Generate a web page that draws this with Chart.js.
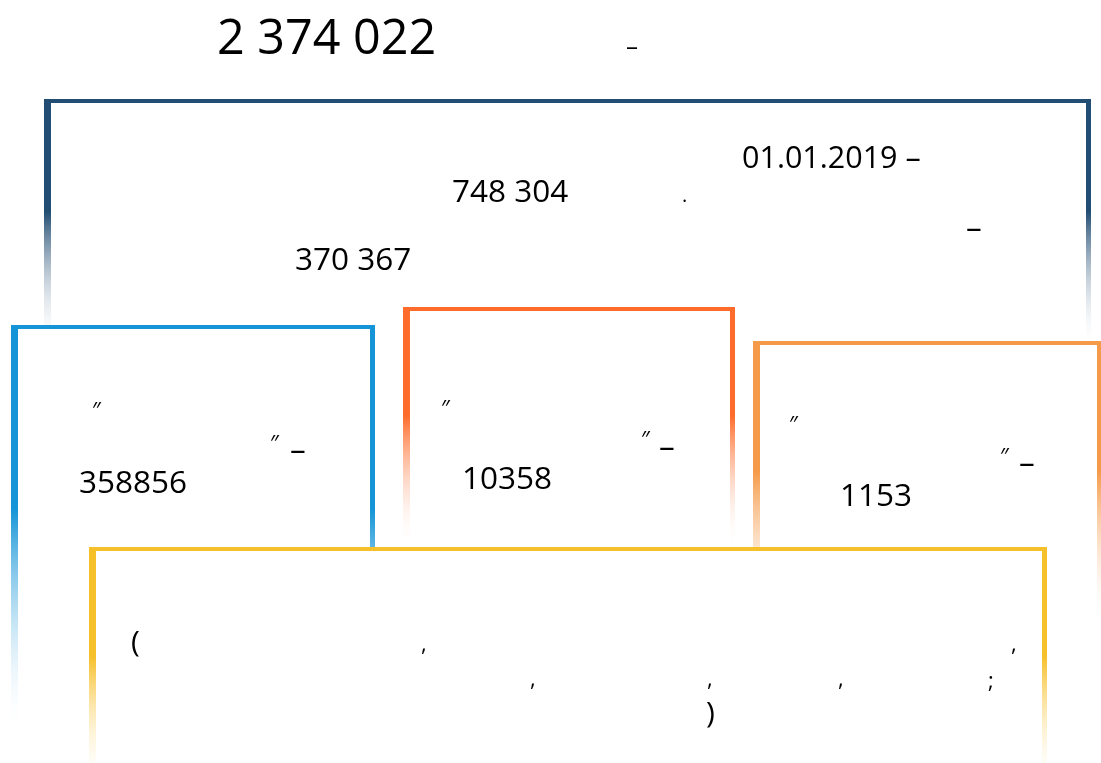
<!DOCTYPE html>
<html>
<head>
<meta charset="utf-8">
<script src="https://cdn.jsdelivr.net/npm/chart.js@4"></script>
<style>
  html, body { margin: 0; padding: 0; background: #ffffff; }
  #wrap { width: 1101px; height: 763px; }
</style>
</head>
<body>
<div id="wrap"><canvas id="infoChart" width="1101" height="763"></canvas></div>
<script>
// values
const totalValue = [2374022];
const periodStart = ['01.01.2019'];
const summaryValues = [748304, 370367];
const categoryValues = [358856, 10358, 1153];
const boxColors = ['#234e73', '#1595d7', '#fe6b2a', '#f59a48', '#f6c02a'];

// 2 374 022 style
function spaced(n) {
    return String(n).replace(/\B(?=(\d{3})+(?!\d))/g, ' ');
}

// boxes in picture units: left, top, right, bottom, fade end
const boxes = [
    { l: 44, t: 99, r: 1091, b: 420, fade: 350, c: boxColors[0] },
    { l: 11, t: 325, r: 375, b: 740, fade: 735, c: boxColors[1] },
    { l: 403, t: 307, r: 735, b: 548, fade: 548, c: boxColors[2] },
    { l: 753, t: 341, r: 1102, b: 640, fade: 630, c: boxColors[3] },
    { l: 89, t: 547, r: 1047, b: 763, fade: 790, c: boxColors[4] }
];

// text pieces: x, baseline, size, string
const big = 31.5;
const texts = [
    [217, 54, 48.5, spaced(totalValue[0])],
    [626, 55, 24, '–'],
    [742, 168, 30.5, periodStart[0] + ' –'],
    [452, 202, big, spaced(summaryValues[0])],
    [682, 202, 20, '.'],
    [966, 238, big, '–'],
    [295, 270, big, spaced(summaryValues[1])]
];
const quoteRows = [
    { box: 1, ox: 92, oy: 418, cx: 270, cy: 451, dx: 290, dy: 460, nx: 79, ny: 493 },
    { box: 2, ox: 441, oy: 416, cx: 641, cy: 447, dx: 659, dy: 457, nx: 462, ny: 489 },
    { box: 3, ox: 789, oy: 432, cx: 1000, cy: 464, dx: 1019, dy: 473, nx: 840, ny: 506 }
];
quoteRows.forEach(function(q, i) {
    texts.push([q.ox, q.oy, 22, '″']);
    texts.push([q.cx, q.cy, 22, '″']);
    texts.push([q.dx, q.dy, big, '–']);
    texts.push([q.nx, q.ny, big, String(categoryValues[i])]);
});
const lastTexts = [
    [131, 652, 30, '('],
    [421, 651, 22, ','],
    [1011, 651, 22, ','],
    [530, 686, 22, ','],
    [707, 686, 22, ','],
    [838, 686, 22, ','],
    [988, 688, 22, ';'],
    [706, 723, 30, ')']
];

const boxPlugin = {
    id: 'boxPlugin',
    beforeDatasetsDraw(chart) {
        const ctx = chart.ctx;
        const xs = chart.scales.x;
        const ys = chart.scales.y;
        const X = v => xs.getPixelForValue(v);
        const Y = v => ys.getPixelForValue(v);

        function drawText(t) {
            ctx.font = t[2] + 'px "Open Sans", "DejaVu Sans", sans-serif';
            ctx.fillStyle = '#000000';
            ctx.textBaseline = 'alphabetic';
            ctx.textAlign = 'left';
            ctx.fillText(t[3], X(t[0]), Y(t[1]));
        }

        ctx.save();
        boxes.forEach(function(b, i) {
            const l = X(b.l), t = Y(b.t), r = X(b.r), bt = Y(b.b);
            // white card hides what lies below
            ctx.fillStyle = '#ffffff';
            ctx.fillRect(l, t, r - l, bt - t);

            const g = ctx.createLinearGradient(0, t, 0, Y(b.fade));
            g.addColorStop(0, b.c);
            g.addColorStop(0.45, b.c);
            g.addColorStop(1, 'rgba(255,255,255,0)');
            ctx.fillStyle = g;
            ctx.fillRect(l, t, 7, bt - t);          // left side
            ctx.fillRect(r - 5, t, 5, bt - t);      // right side
            ctx.fillStyle = b.c;
            ctx.fillRect(l, t, r - l, 4);           // top

            // texts belonging to each box are drawn with it
            if (i === 0) texts.slice(0, 7).forEach(drawText);
            quoteRows.forEach(function(q, k) {
                if (q.box === i) texts.slice(7 + k * 4, 11 + k * 4).forEach(drawText);
            });
            if (i === 4) lastTexts.forEach(drawText);
        });
        ctx.restore();
    }
};

new Chart(document.getElementById('infoChart').getContext('2d'), {
    type: 'scatter',
    data: {
        datasets: [{
            label: 'values',
            data: categoryValues.map(() => ({ x: 0, y: 0 })),
            pointRadius: 0
        }]
    },
    options: {
        responsive: false,
        animation: false,
        devicePixelRatio: 1,
        layout: { padding: 0 },
        plugins: { legend: { display: false }, tooltip: { enabled: false } },
        scales: {
            x: { type: 'linear', min: 0, max: 1101, display: false },
            y: { type: 'linear', min: 0, max: 763, reverse: true, display: false }
        }
    },
    plugins: [boxPlugin]
});
</script>
</body>
</html>
